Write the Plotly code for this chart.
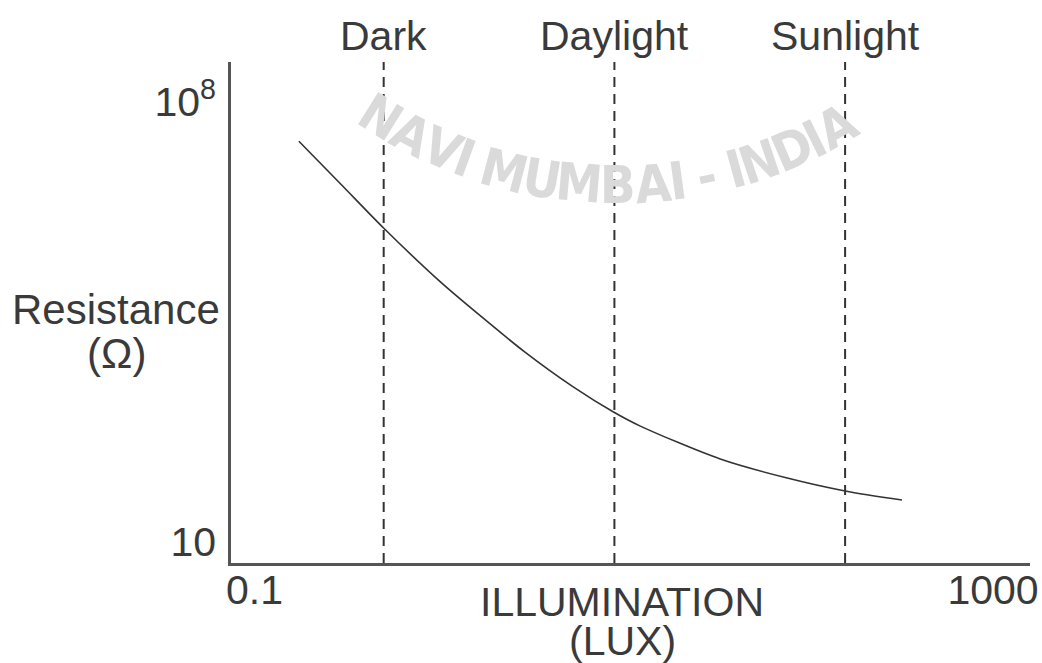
import math
import plotly.graph_objects as go

# ---- data ----
illumination_lux = [0.174, 0.294, 0.502, 1.02, 1.68, 2.87, 5.35, 8.8, 12.3, 33.3, 76.8, 158, 321]
resistance_ohm = [2.37e7, 4.92e6, 9.8e5, 1.36e5, 3.92e4, 1.09e4, 2.91e3, 1.17e3, 698, 209, 104, 64.7, 46.5]

condition_names = ["Dark", "Daylight", "Sunlight"]
condition_lux = [0.501, 8.9, 158]

x_tick_vals = [0.1, 1000]
x_tick_text = ["0.1", "1000"]
y_tick_vals = [10, 1e8]
y_tick_text = ["10", "10<sup>8</sup>"]

watermark_text = "NAVI MUMBAI - INDIA"

# ---- layout constants ----
W, H = 1042, 663
ML, MR, MT, MB = 231, 12, 62, 100
PW, PH = W - ML - MR, H - MT - MB
FONT = "Liberation Sans, Arial, sans-serif"
WM_FONT = "Liberation Sans Narrow, DejaVu Sans Condensed, Liberation Sans, sans-serif"
TXT = "#3a3a3a"
AX = "#555555"


def px_to_paper(px, py):
    return (px - ML) / PW, (H - MB - py) / PH


fig = go.Figure()

# watermark (faint arched text), laid out along a circle by letter width
char_w = {"N": .72, "A": .72, "V": .67, "I": .28, " ": .30, "M": .83,
          "U": .72, "B": .72, "-": .33, "D": .72}
cx, cy, r = 617, -261, 446
centers = []
acc = 0.0
for ch in watermark_text:
    w = char_w[ch]
    centers.append(acc + w / 2)
    acc += w
a0, a1 = -32.0, 29.5
scale = (a1 - a0) / (centers[-1] - centers[0])
for ch, c in zip(watermark_text, centers):
    if ch == " ":
        continue
    th = a0 + (c - centers[0]) * scale
    t = math.radians(th)
    px = cx + r * math.sin(t)
    py = cy + r * math.cos(t)
    xp, yp = px_to_paper(px, py)
    fig.add_annotation(x=xp, y=yp, xref="paper", yref="paper", text="<b>%s</b>" % ch,
                       showarrow=False, textangle=-th,
                       font=dict(family=WM_FONT, size=52, color="#dadada"),
                       xanchor="center", yanchor="middle")

# dashed condition lines
for name, lx in zip(condition_names, condition_lux):
    fig.add_shape(type="line", x0=lx, x1=lx, xref="x", y0=0, y1=1, yref="paper",
                  line=dict(color="#333333", width=2, dash="10px,7px"))
    fig.add_annotation(x=math.log10(lx), xref="x", y=1 + (MT - 36) / PH, yref="paper",
                       text=name, showarrow=False, xanchor="center", yanchor="middle",
                       font=dict(family=FONT, size=41, color=TXT))

# curve
fig.add_trace(go.Scatter(x=illumination_lux, y=resistance_ohm, mode="lines",
                         line=dict(color="#333333", width=1.6, shape="spline", smoothing=0.8),
                         showlegend=False, hoverinfo="skip"))

# axis titles
for txt, py in [("Resistance", 309), ("(Ω)", 353)]:
    xp, yp = px_to_paper(116, py)
    fig.add_annotation(x=xp, y=yp, xref="paper", yref="paper", text=txt, showarrow=False,
                       xanchor="center", yanchor="middle",
                       font=dict(family=FONT, size=42, color=TXT))
for txt, py in [("ILLUMINATION", 602), ("(LUX)", 641)]:
    xp, yp = px_to_paper(622, py)
    fig.add_annotation(x=xp, y=yp, xref="paper", yref="paper", text=txt, showarrow=False,
                       xanchor="center", yanchor="middle",
                       font=dict(family=FONT, size=41, color=TXT))

fig.update_layout(
    width=W, height=H,
    margin=dict(l=ML, r=MR, t=MT, b=MB, pad=0),
    paper_bgcolor="white", plot_bgcolor="white",
    font=dict(family=FONT, size=41, color=TXT),
    showlegend=False,
)
fig.update_xaxes(type="log", range=[-1.127, 3.200], showgrid=False, zeroline=False,
                 showline=True, linecolor=AX, linewidth=2.5, automargin=False,
                 tickmode="array", tickvals=x_tick_vals, ticktext=x_tick_text,
                 ticks="", ticklabelstandoff=-11,
                 tickfont=dict(family=FONT, size=41, color=TXT))
fig.update_yaxes(type="log", range=[0.666, 8.636], showgrid=False, zeroline=False,
                 showline=True, linecolor=AX, linewidth=2.5, automargin=False,
                 tickmode="array", tickvals=y_tick_vals, ticktext=y_tick_text,
                 ticks="", ticklabelstandoff=4,
                 tickfont=dict(family=FONT, size=41, color=TXT))

fig.write_html("out.html", config={"displayModeBar": False},
               post_script="document.body.style.margin='0px';")
